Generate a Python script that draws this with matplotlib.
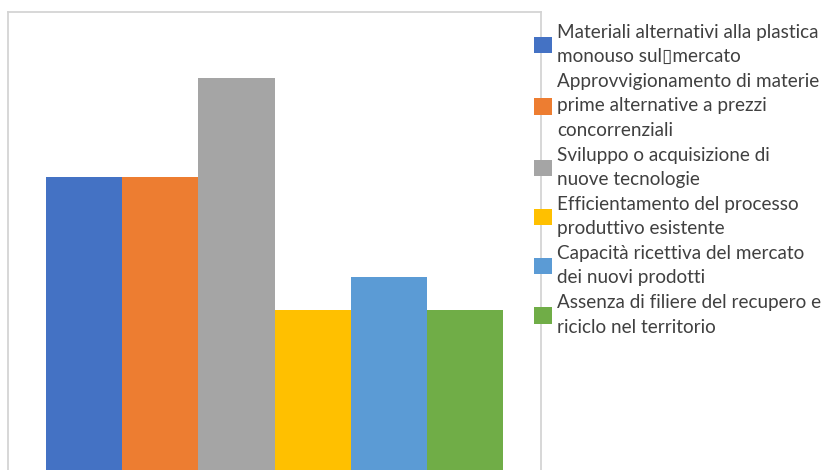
import matplotlib
matplotlib.use("Agg")
import matplotlib.pyplot as plt
from matplotlib.patches import Patch

labels = [
    "Materiali alternativi alla plastica\nmonouso sul\u25afmercato",
    "Approvvigionamento di materie\nprime alternative a prezzi\nconcorrenziali",
    "Sviluppo o acquisizione di\nnuove tecnologie",
    "Efficientamento del processo\nproduttivo esistente",
    "Capacità ricettiva del mercato\ndei nuovi prodotti",
    "Assenza di filiere del recupero e\nriciclo nel territorio",
]
values = [9, 9, 12, 5, 6, 5]
colors = ["#4472C4", "#ED7D31", "#A5A5A5", "#FFC000", "#5B9BD5", "#70AD47"]

W, H = 821, 470
fig = plt.figure(figsize=(W / 100, H / 100), dpi=100)
left, right, top, base = 8, 541, 12, 475
ax = fig.add_axes([left / W, (H - base) / H, (right - left) / W, (base - top) / H])

x = list(range(len(values)))
ax.bar(x, values, width=1.0, color=colors)
ax.set_xlim(-1, 6)
ax.set_ylim(0, 14)
ax.set_xticks([])
ax.set_yticks([])
for s in ax.spines.values():
    s.set_color("#d4d4d4")
    s.set_linewidth(1.3)

handles = [Patch(facecolor=c) for c in colors]
leg = fig.legend(handles, labels, loc="upper left",
                 bbox_to_anchor=(534 / W, 1 - 24 / H),
                 frameon=False, handlelength=0.95, handleheight=0.95,
                 handletextpad=0.27, labelspacing=0.42, borderpad=0,
                 borderaxespad=0,
                 prop={"family": ["Lato", "DejaVu Sans"], "size": 13.6})
for t in leg.get_texts():
    t.set_color("#404040")
    t.set_linespacing(1.52)

fig.savefig("out.png", dpi=100)
